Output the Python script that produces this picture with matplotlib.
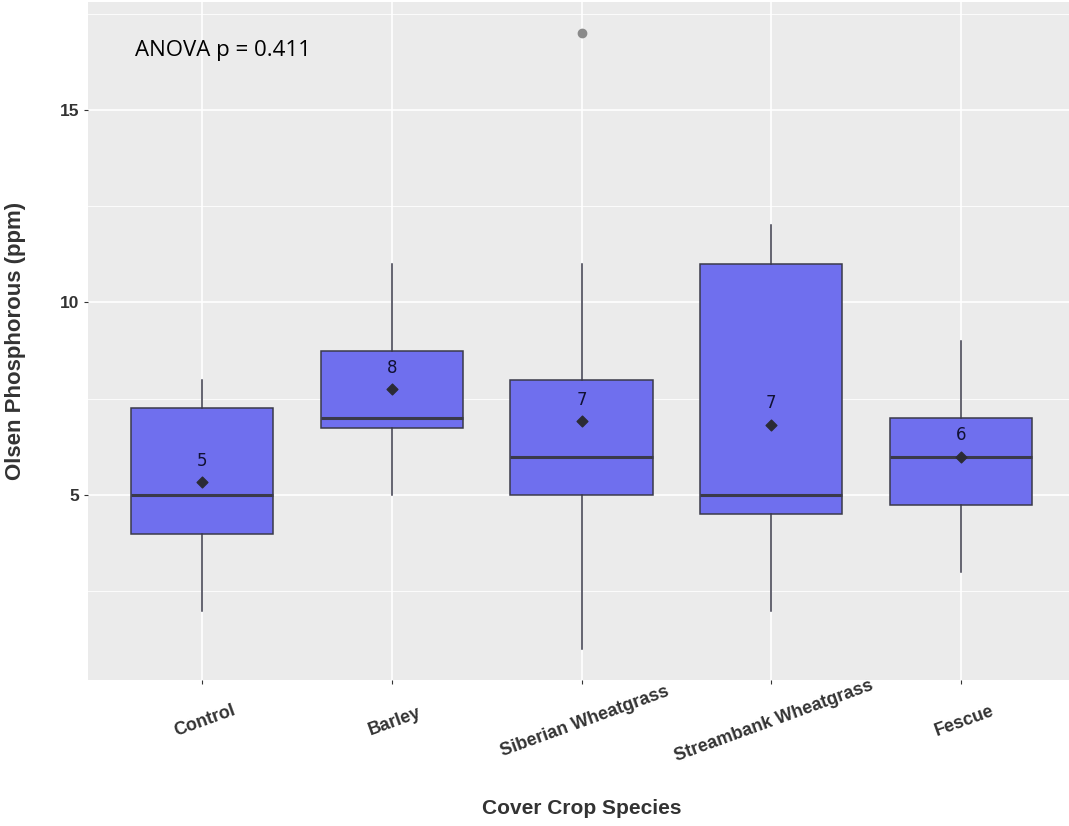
import matplotlib
matplotlib.use("Agg")
import matplotlib.pyplot as plt

# data
species = ['Control', 'Barley', 'Siberian Wheatgrass', 'Streambank Wheatgrass', 'Fescue']
q1 = [4.0, 6.75, 5.0, 4.5, 4.75]
med = [5.0, 7.0, 6.0, 5.0, 6.0]
q3 = [7.25, 8.75, 8.0, 11.0, 7.0]
wlo = [2.0, 5.0, 1.0, 2.0, 3.0]
whi = [8.0, 11.0, 11.0, 12.0, 9.0]
means = [5.33, 7.75, 6.92, 6.83, 6.0]
mean_labels = ['5', '8', '7', '7', '6']
outliers = [[], [], [17.0], [], []]

fig = plt.figure(figsize=(10.69, 8.26), dpi=100)
ax = fig.add_axes([88 / 1069, 146 / 826, 987 / 1069, 678 / 826])
ax.set_facecolor('#EBEBEB')

stats = []
for i, name in enumerate(species):
    stats.append(dict(label=name, q1=q1[i], med=med[i], q3=q3[i],
                      whislo=wlo[i], whishi=whi[i], fliers=outliers[i]))

pos = list(range(1, len(species) + 1))
ax.bxp(stats, positions=pos, widths=0.75, patch_artist=True, showcaps=False,
       boxprops=dict(facecolor='#6F6FEE', edgecolor='#3A3A4A', linewidth=1.1),
       medianprops=dict(color='#3A3A4A', linewidth=2.2),
       whiskerprops=dict(color='#3A3A4A', linewidth=1.1),
       flierprops=dict(marker='o', markerfacecolor='#8A8A8A', markeredgecolor='#8A8A8A',
                       markersize=6),
       zorder=3)

ax.scatter(pos, means, marker='D', s=30, color='#2B2B35', zorder=5)
for x, m, lab in zip(pos, means, mean_labels):
    ax.text(x, m + 0.32, lab, ha='center', va='bottom', fontsize=12,
            color='#111133', zorder=6)

ax.set_xlim(0.4, 5.6)
ax.set_ylim(0.2, 17.8)
ax.set_yticks([5, 10, 15])
ax.set_yticks([2.5, 7.5, 12.5, 17.5], minor=True)
ax.set_xticks(pos)
ax.set_xticklabels(species, rotation=20, fontsize=13, fontweight='bold',
                   family='Liberation Sans', color='#333333', ha='center',
                   rotation_mode='anchor')
for t in ax.get_xticklabels():
    t.set_va('top')
for t in ax.get_yticklabels():
    t.set_fontsize(12.5)
    t.set_fontweight('bold')
    t.set_family('Liberation Sans')
    t.set_color('#333333')

ax.grid(True, which='major', color='white', linewidth=1.2, zorder=0)
ax.grid(True, which='minor', axis='y', color='white', linewidth=0.6, zorder=0)
ax.set_axisbelow(True)
ax.tick_params(axis='x', which='major', length=3, color='#333333', pad=21)
ax.tick_params(axis='y', which='major', length=3, color='#333333', pad=3)
ax.tick_params(axis='y', which='minor', length=0)
for s in ax.spines.values():
    s.set_visible(False)

ax.set_ylabel('Olsen Phosphorous (ppm)', fontsize=16, fontweight='bold',
              family='Liberation Sans', color='#333333')
ax.yaxis.set_label_coords(-62 / 987, 0.5)
fig.text(582 / 1069, 1 - 808 / 826, 'Cover Crop Species', fontsize=15,
         fontweight='bold', family='Liberation Sans', color='#333333',
         ha='center', va='center')

ax.text(0.645, 16.55, 'ANOVA p = 0.411', fontsize=16, family='Open Sans',
        ha='left', va='center', color='black')

fig.savefig('out.png', dpi=100)
